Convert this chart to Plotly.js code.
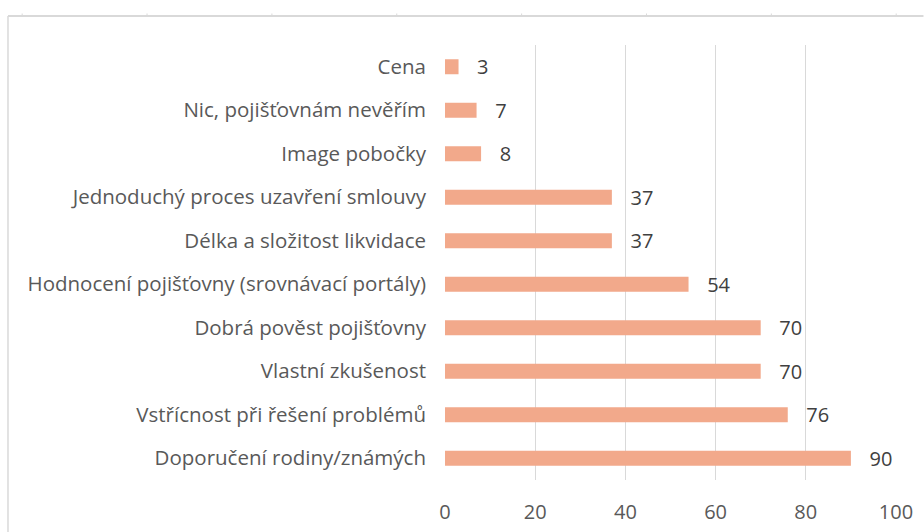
<!DOCTYPE html>
<html>
<head>
<meta charset="utf-8">
<script src="https://cdn.plot.ly/plotly-3.0.1.min.js"></script>
<style>html,body{margin:0;padding:0;background:#fff;}#chart{width:924px;height:532px;}</style>
</head>
<body>
<div id="chart"></div>
<script>
const categories = [
  "Cena",
  "Nic, pojišťovnám nevěřím",
  "Image pobočky",
  "Jednoduchý proces uzavření smlouvy",
  "Délka a složitost likvidace",
  "Hodnocení pojišťovny (srovnávací portály)",
  "Dobrá pověst pojišťovny",
  "Vlastní zkušenost",
  "Vstřícnost při řešení problémů",
  "Doporučení rodiny/známých"
];
const values = [3, 7, 8, 37, 37, 54, 70, 70, 76, 90];
const xTicks = [0, 20, 40, 60, 80, 100];

const FONT = '"Open Sans", "Noto Sans", Arial, sans-serif';

// pixel -> paper helpers for decorative frame
const PL = 445, PR = 896.5, PT = 45, PB = 480;
const px = v => (v - PL) / (PR - PL);
const py = v => (PB - v) / (PB - PT);

const shapes = [
  {type:'line', xref:'paper', yref:'paper', x0:px(7.5), x1:px(924), y0:py(16), y1:py(16), line:{color:'#D9D9D9', width:2}},
  {type:'line', xref:'paper', yref:'paper', x0:px(7.5), x1:px(7.5), y0:py(16), y1:py(532), line:{color:'#D9D9D9', width:1.5}}
];
for (let t = 21.7; t < 924; t += 125) {
  shapes.push({type:'line', xref:'paper', yref:'paper', x0:px(t), x1:px(t), y0:py(13.5), y1:py(16), line:{color:'#D9D9D9', width:1}});
}

const trace = {
  type: 'bar',
  orientation: 'h',
  y: categories,
  x: values,
  marker: {color: '#F2A98B'},
  texttemplate: '\u00A0\u00A0\u00A0%{x}',
  textposition: 'outside',
  constraintext: 'none',
  cliponaxis: false,
  textfont: {family: FONT, size: 20, color: '#404040'},
  hoverinfo: 'none'
};

const layout = {
  width: 924, height: 532,
  margin: {l: PL, r: 924 - PR, t: PT, b: 532 - PB, pad: 0},
  paper_bgcolor: '#ffffff', plot_bgcolor: '#ffffff',
  showlegend: false,
  bargap: 0.655,
  font: {family: FONT, color: '#595959', size: 20},
  xaxis: {
    range: [0, 100], tickvals: xTicks, ticktext: xTicks.map(String),
    showgrid: true, gridcolor: '#D9D9D9', gridwidth: 1.2,
    zeroline: false, showline: false, ticks: '',
    ticklabelstandoff: 18,
    tickfont: {family: FONT, size: 20, color: '#595959'}
  },
  yaxis: {
    autorange: 'reversed', showgrid: false, zeroline: false, showline: false, ticks: '',
    ticklabelstandoff: 18,
    tickfont: {family: FONT, size: 20.5, color: '#595959'}
  },
  shapes: shapes
};

Plotly.newPlot('chart', [trace], layout, {staticPlot: true, displayModeBar: false});
</script>
</body>
</html>
